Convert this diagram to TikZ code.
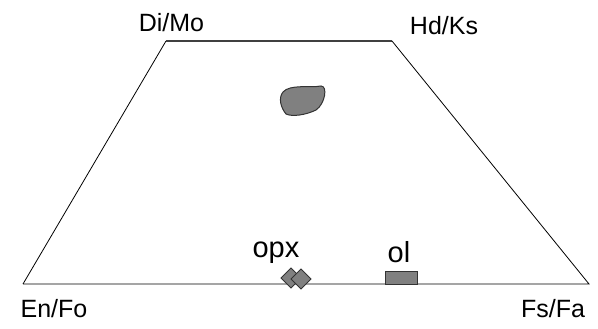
\documentclass[tikz,border=0pt]{standalone}
\usepackage{fontspec}
\setmainfont{Liberation Sans}
\begin{document}
\begin{tikzpicture}[x=1pt,y=-1pt,
  lbl/.style={font=\fontsize{25}{30}\selectfont, inner sep=0pt, anchor=base},
  big/.style={font=\fontsize{29}{34}\selectfont, inner sep=0pt, anchor=base},
  mineral/.style={draw=black!80, fill=black!50, line width=1pt}]
\useasboundingbox (0,0) rectangle (598,329);
\coordinate (tl) at (166,41);
\coordinate (tr) at (392,41);
\coordinate (bl) at (23,284);
\coordinate (br) at (589,284);
\draw[line width=0.8pt] (bl) -- (tl);
\draw[line width=1.2pt, black!75] (tl) -- (tr);
\draw[line width=0.8pt] (tr) -- (br) -- (bl);
\node[lbl] (dimo) at (171.5,32) {Di/Mo};
\node[lbl] (hdks) at (444,35) {Hd/Ks};
\node[lbl] (enfo) at (54,317) {En/Fo};
\node[lbl] (fsfa) at (553,317) {Fs/Fa};
\node[big] (opx) at (276,257) {opx};
\node[big] (ol) at (399,262) {ol};
\draw[mineral] (291,268) -- (301,278) -- (291,288) -- (281,278) -- cycle;
\draw[mineral] (301,269) -- (311,279) -- (301,289) -- (291,279) -- cycle;
\draw[mineral] (385,271) rectangle (417,284);
\draw[mineral] (283,92) .. controls (290,84) and (310,88) .. (321,86)
  .. controls (328,86) and (325,104) .. (316,110)
  .. controls (306,115) and (292,117) .. (286,114)
  .. controls (281,108) and (278,98) .. (283,92) -- cycle;
\end{tikzpicture}
\end{document}
